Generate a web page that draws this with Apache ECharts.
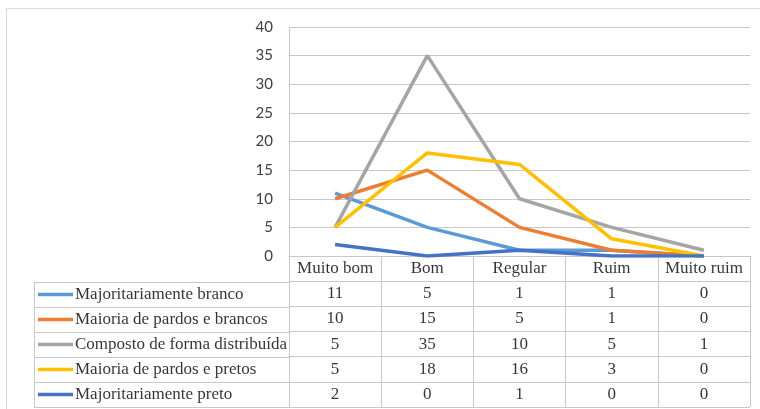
<!DOCTYPE html>
<html>
<head>
<meta charset="utf-8">
<script src="https://cdn.jsdelivr.net/npm/echarts@6/dist/echarts.min.js"></script>
<style>
  html, body { margin: 0; padding: 0; background: #fff; }
  #chart { width: 760px; height: 409px; }
</style>
</head>
<body>
<div id="chart"></div>
<script>
// categories of the x axis
var categories = ['Muito bom', 'Bom', 'Regular', 'Ruim', 'Muito ruim']
// series names (table legend)
var seriesNames = [
  'Majoritariamente branco',
  'Maioria de pardos e brancos',
  'Composto de forma distribuída',
  'Maioria de pardos e pretos',
  'Majoritariamente preto'
]
var majBranco = [11, 5, 1, 1, 0]
var pardosBrancos = [10, 15, 5, 1, 0]
var distribuida = [5, 35, 10, 5, 1]
var pardosPretos = [5, 18, 16, 3, 0]
var majPreto = [2, 0, 1, 0, 0]
var yTicks = [0, 5, 10, 15, 20, 25, 30, 35, 40]

var allValues = [majBranco, pardosBrancos, distribuida, pardosPretos, majPreto]
var colors = ['#5B9BD5', '#ED7D31', '#A5A5A5', '#FFC000', '#4472C4']
var gridColor = '#c8c8c8'
var legendColWidth = 255

var myChart = echarts.init(document.getElementById('chart'))

// table cells: header row + one row per series
var tableCells = []
categories.forEach(function (c, i) {
  tableCells.push({ value: [i, 0], text: c })
})
allValues.forEach(function (vals, r) {
  vals.forEach(function (v, i) {
    tableCells.push({ value: [i, r + 1], text: String(v) })
  })
})
var tableTexts = tableCells.map(function (d) { return d.text })
var legendCells = seriesNames.map(function (n, r) { return [0, r] })

var serifLabel = {
  show: true,
  fontFamily: 'Liberation Serif',
  fontSize: 17,
  color: '#000'
}

var lineSeries = seriesNames.map(function (name, i) {
  return {
    name: name,
    type: 'line',
    xAxisIndex: 0,
    yAxisIndex: 0,
    symbol: 'none',
    lineStyle: { width: 3.5, color: colors[i] },
    itemStyle: { color: colors[i] },
    data: allValues[i]
  }
})

myChart.setOption({
  animation: false,
  graphic: [{
    type: 'rect',
    shape: { x: 6.5, y: 8.5, width: 770, height: 420 },
    style: { fill: 'none', stroke: '#d9d9d9', lineWidth: 1 },
    silent: true
  }],
  grid: [
    { left: 289, right: 10, top: 27, bottom: 153 },
    { left: 289, right: 10, top: 256, bottom: 2 },
    { left: 34, width: legendColWidth, top: 282, bottom: 2 }
  ],
  xAxis: [
    {
      gridIndex: 0,
      type: 'category',
      data: categories,
      boundaryGap: true,
      axisLine: { show: true, lineStyle: { color: gridColor } },
      axisTick: { show: false },
      axisLabel: { show: false }
    },
    {
      gridIndex: 1,
      type: 'category',
      data: categories,
      axisLine: { show: false },
      axisTick: { show: false },
      axisLabel: { show: false },
      splitLine: { show: true, interval: 0, lineStyle: { color: gridColor } }
    },
    {
      gridIndex: 2,
      type: 'category',
      data: [''],
      axisLine: { show: false },
      axisTick: { show: false },
      axisLabel: { show: false },
      splitLine: { show: true, interval: 0, lineStyle: { color: gridColor } }
    }
  ],
  yAxis: [
    {
      gridIndex: 0,
      type: 'value',
      min: 0,
      max: 40,
      interval: 5,
      axisLine: { show: true, lineStyle: { color: gridColor } },
      axisTick: { show: false },
      axisLabel: {
        margin: 16,
        fontFamily: 'Lato',
        fontSize: 15,
        color: '#404040',
        formatter: function (v) { return yTicks.indexOf(v) >= 0 ? String(v) : '' }
      },
      splitLine: { lineStyle: { color: gridColor } }
    },
    {
      gridIndex: 1,
      type: 'category',
      inverse: true,
      data: ['h', '0', '1', '2', '3', '4'],
      axisLine: { show: false },
      axisTick: { show: false },
      axisLabel: { show: false },
      splitLine: { show: true, interval: 0, lineStyle: { color: gridColor } }
    },
    {
      gridIndex: 2,
      type: 'category',
      inverse: true,
      data: seriesNames,
      axisLine: { show: false },
      axisTick: { show: false },
      axisLabel: { show: false },
      splitLine: { show: true, interval: 0, lineStyle: { color: gridColor } }
    }
  ],
  series: lineSeries.concat([
    {
      // table values and header
      type: 'scatter',
      xAxisIndex: 1,
      yAxisIndex: 1,
      silent: true,
      symbolSize: 0,
      data: tableCells,
      label: Object.assign({}, serifLabel, {
        position: 'inside',
        formatter: function (p) { return tableTexts[p.dataIndex] }
      })
    },
    {
      // legend key lines
      type: 'custom',
      xAxisIndex: 2,
      yAxisIndex: 2,
      silent: true,
      data: legendCells,
      renderItem: function (params, api) {
        var p = api.coord([0, api.value(1)])
        var w = api.size([1, 0])[0]
        var left = p[0] - w / 2
        return {
          type: 'line',
          shape: { x1: left + 4, y1: p[1], x2: left + 39, y2: p[1] },
          style: { stroke: colors[params.dataIndex], lineWidth: 3.5 }
        }
      }
    },
    {
      // legend names
      type: 'scatter',
      xAxisIndex: 2,
      yAxisIndex: 2,
      silent: true,
      symbolSize: 0,
      data: legendCells,
      label: Object.assign({}, serifLabel, {
        position: 'inside',
        align: 'left',
        offset: [-legendColWidth / 2 + 41, 0],
        formatter: function (p) { return seriesNames[p.dataIndex] }
      })
    }
  ])
})
</script>
</body>
</html>
